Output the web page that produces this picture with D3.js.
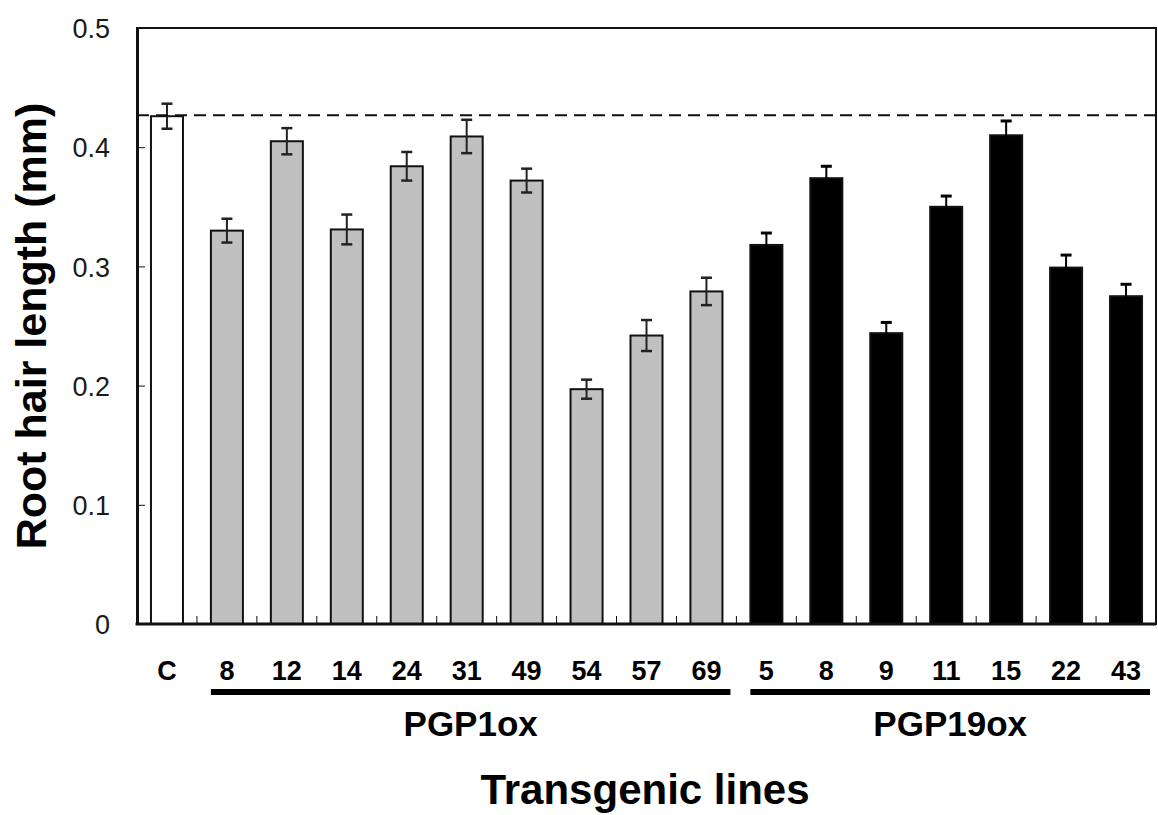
<!DOCTYPE html>
<html>
<head>
<meta charset="utf-8">
<script src="https://cdn.jsdelivr.net/npm/d3@7"></script>
<style>
  body { margin: 0; background: #fff; }
  svg { display: block; font-family: "Liberation Sans", Arial, sans-serif; }
</style>
</head>
<body>
<div id="chart"></div>
<script>
// line labels left to right
var lineLabels = ["C", "8", "12", "14", "24", "31", "49", "54", "57", "69", "5", "8", "9", "11", "15", "22", "43"];
// which group each line belongs to
var lineGroups = ["control", "PGP1ox", "PGP1ox", "PGP1ox", "PGP1ox", "PGP1ox", "PGP1ox", "PGP1ox", "PGP1ox", "PGP1ox",
                  "PGP19ox", "PGP19ox", "PGP19ox", "PGP19ox", "PGP19ox", "PGP19ox", "PGP19ox"];
// mean root hair length (mm)
var hairLength = [0.426, 0.330, 0.405, 0.331, 0.384, 0.409, 0.372, 0.197, 0.242, 0.279,
                  0.318, 0.374, 0.244, 0.350, 0.410, 0.299, 0.275];
// error (mm)
var hairError = [0.0105, 0.010, 0.011, 0.0125, 0.012, 0.014, 0.010, 0.008, 0.013, 0.0115,
                 0.010, 0.010, 0.009, 0.009, 0.012, 0.0105, 0.010];
var groupNames = ["PGP1ox", "PGP19ox"];
var yTicks = [0, 0.1, 0.2, 0.3, 0.4, 0.5];

// plot box (note: "top" is reserved on window, so use other names)
var W = 1158, H = 815;
var plotL = 137, plotR = 1156, plotT = 28, plotB = 624;

var fillFor = {control: "#ffffff", PGP1ox: "#c0c0c0", PGP19ox: "#000000"};

var svg = d3.select("#chart").append("svg")
  .attr("width", W)
  .attr("height", H);

var x = d3.scaleBand()
  .domain(d3.range(lineLabels.length))
  .range([plotL, plotR])
  .paddingInner(0.466)
  .paddingOuter(0.233);

var y = d3.scaleLinear()
  .domain([0, 0.5])
  .range([plotB, plotT]);

var data = lineLabels.map(function(l, i) {
  return {i: i, label: l, group: lineGroups[i], v: hairLength[i], e: hairError[i]};
});

// bars
svg.selectAll(".bar")
  .data(data)
  .enter().append("rect")
  .attr("class", "bar")
  .attr("x", function(d) { return x(d.i); })
  .attr("y", function(d) { return y(d.v); })
  .attr("width", x.bandwidth())
  .attr("height", function(d) { return y(0) - y(d.v); })
  .style("fill", function(d) { return fillFor[d.group]; })
  .style("stroke", "#111")
  .style("stroke-width", 2);

// error bars
var eb = svg.selectAll(".err")
  .data(data)
  .enter().append("g")
  .attr("class", "err")
  .attr("transform", function(d) { return "translate(" + (x(d.i) + x.bandwidth() / 2) + ",0)"; })
  .style("stroke", function(d) { return d.group == "PGP19ox" ? "#000" : "#222"; })
  .style("stroke-width", 2);
eb.append("line")
  .attr("y1", function(d) { return y(d.v + d.e); })
  .attr("y2", function(d) { return y(d.v - d.e); });
eb.append("line")
  .attr("x1", -5.5).attr("x2", 5.5)
  .style("stroke-width", function(d) { return d.group == "PGP19ox" ? 3 : 2.5; })
  .attr("y1", function(d) { return y(d.v + d.e); })
  .attr("y2", function(d) { return y(d.v + d.e); });
eb.append("line")
  .attr("x1", -5.5).attr("x2", 5.5)
  .style("stroke-width", 2.5)
  .attr("y1", function(d) { return y(d.v - d.e); })
  .attr("y2", function(d) { return y(d.v - d.e); });

// dashed reference line at control level
svg.append("line")
  .attr("x1", plotL).attr("x2", plotR)
  .attr("y1", y(hairLength[0]) - 1).attr("y2", y(hairLength[0]) - 1)
  .style("stroke", "#111")
  .style("stroke-width", 2)
  .style("stroke-dasharray", "12,7");

// frame
svg.append("rect")
  .attr("x", plotL).attr("y", plotT)
  .attr("width", plotR - plotL).attr("height", plotB - plotT)
  .style("fill", "none")
  .style("stroke", "#111")
  .style("stroke-width", 2);

// y axis, ticks point inward
var yAxis = svg.append("g")
  .attr("transform", "translate(" + plotL + ",0)")
  .call(d3.axisLeft(y).tickValues(yTicks).tickSizeInner(-8).tickSizeOuter(0).tickPadding(27)
    .tickFormat(function(d) { return d == 0 ? "0" : d3.format(".1f")(d); }));
yAxis.select(".domain").style("stroke", "#111").style("stroke-width", 3);
yAxis.selectAll(".tick line").style("stroke", "#111").style("stroke-width", 1);
yAxis.selectAll(".tick text")
  .style("font-size", "27px")
  .style("font-family", "Liberation Sans, Arial, sans-serif")
  .style("fill", "#1a1a1a")
  .attr("dy", "0.36em");

// bottom axis line and tick marks between categories
svg.append("line")
  .attr("x1", plotL - 1.5).attr("x2", plotR)
  .attr("y1", plotB).attr("y2", plotB)
  .style("stroke", "#111")
  .style("stroke-width", 3);

var gap = (x.step() - x.bandwidth()) / 2;
svg.selectAll(".xtick")
  .data(d3.range(1, lineLabels.length))
  .enter().append("line")
  .attr("x1", function(i) { return x(i) - gap; })
  .attr("x2", function(i) { return x(i) - gap; })
  .attr("y1", plotB).attr("y2", plotB - 8)
  .style("stroke", "#111")
  .style("stroke-width", 1);

// category labels
svg.selectAll(".xlab")
  .data(data)
  .enter().append("text")
  .attr("x", function(d) { return x(d.i) + x.bandwidth() / 2; })
  .attr("y", 680)
  .attr("text-anchor", "middle")
  .style("font-size", "27px")
  .style("font-weight", "bold")
  .text(function(d) { return d.label; });

// group underlines and names
groupNames.forEach(function(g) {
  var idx = data.filter(function(d) { return d.group == g; }).map(function(d) { return d.i; });
  var c0 = x(d3.min(idx)) + x.bandwidth() / 2;
  var c1 = x(d3.max(idx)) + x.bandwidth() / 2;
  var x0 = c0 - 16, x1 = c1 + 24;
  svg.append("line")
    .attr("x1", x0).attr("x2", x1)
    .attr("y1", 692).attr("y2", 692)
    .style("stroke", "#000")
    .style("stroke-width", 6);
  svg.append("text")
    .attr("x", (x0 + x1) / 2)
    .attr("y", 736)
    .attr("text-anchor", "middle")
    .style("font-size", "35px")
    .style("font-weight", "bold")
    .text(g);
});

// axis titles
svg.append("text")
  .attr("x", 645)
  .attr("y", 804)
  .attr("text-anchor", "middle")
  .style("font-size", "42px")
  .style("font-weight", "bold")
  .text("Transgenic lines");

svg.append("text")
  .attr("transform", "translate(46,326) rotate(-90)")
  .attr("text-anchor", "middle")
  .style("font-size", "43px")
  .style("font-weight", "bold")
  .text("Root hair length (mm)");
</script>
</body>
</html>
